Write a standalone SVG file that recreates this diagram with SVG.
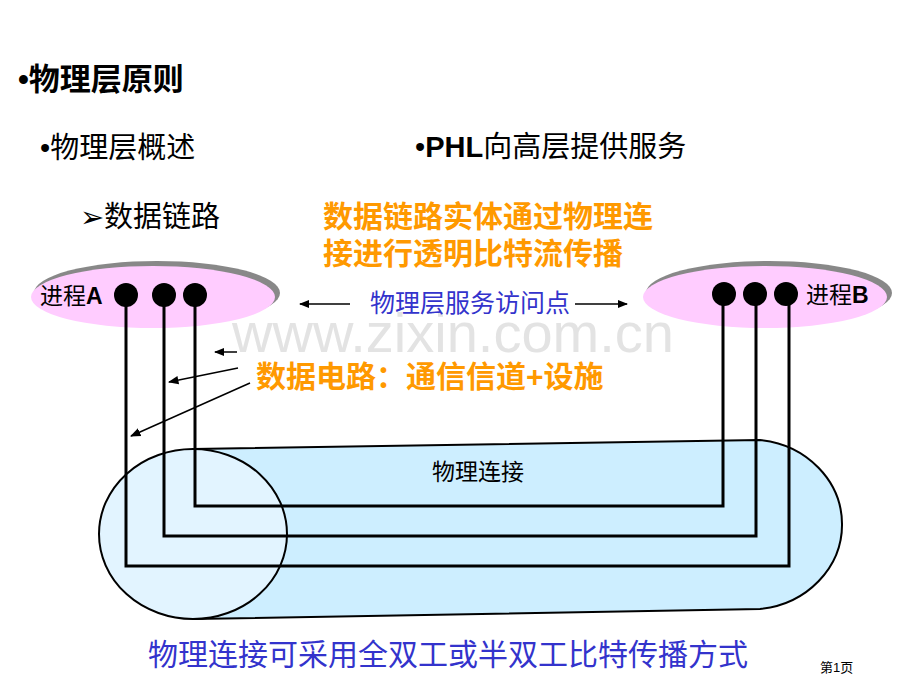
<svg xmlns="http://www.w3.org/2000/svg" width="920" height="690" viewBox="0 0 920 690">
<defs>
<style>
text{font-family:"Liberation Sans","Noto Sans CJK SC",sans-serif}
.t{font-size:29px;fill:#000}
.o{font-size:30px;fill:#f90;font-weight:bold}
.l{stroke:#000;stroke-width:3;fill:none}
.a{stroke:#000;stroke-width:1.5;fill:none;marker-end:url(#ar)}
</style>
<marker id="ar" viewBox="0 0 10 10" refX="9" refY="5" markerWidth="7" markerHeight="7" orient="auto"><path d="M0,1 L10,5 L0,9 z" fill="#000"/></marker>
</defs>
<rect width="920" height="690" fill="#fff"/>
<text x="18" y="90" font-size="31" font-weight="bold">•物理层原则</text>
<text x="40" y="158" class="t">•物理层概述</text>
<text x="415" y="157" class="t">•<tspan font-weight="bold">PHL</tspan>向高层提供服务</text>
<text x="80" y="227" class="t">➢数据链路</text>
<text x="323" y="227" class="o">数据链路实体通过物理连</text>
<text x="323" y="264" class="o">接进行透明比特流传播</text>
<text x="232" y="352" font-size="56" fill="#ddd" opacity="0.8">www.zixin.com.cn</text>
<g id="procA">
<ellipse cx="157" cy="293" rx="123" ry="32" fill="#888"/>
<ellipse cx="153" cy="297" rx="122" ry="31" fill="#fcf"/>
<text x="40" y="304" font-size="23">进程<tspan font-weight="bold">A</tspan></text>
<circle cx="126" cy="295" r="12"/><circle cx="164" cy="295" r="12"/><circle cx="195" cy="295" r="12"/>
</g>
<g id="procB">
<ellipse cx="769" cy="293" rx="123" ry="32" fill="#888"/>
<ellipse cx="765" cy="297" rx="122" ry="31" fill="#fcf"/>
<text x="806" y="303" font-size="23">进程<tspan font-weight="bold">B</tspan></text>
<circle cx="724" cy="294" r="12"/><circle cx="755" cy="294" r="12"/><circle cx="786" cy="294" r="12"/>
</g>
<g id="pipe">
<path d="M193,449 L760,440 A92,85 0 0 1 760,609 L193,619 Z" fill="#cdeeff" stroke="#000" stroke-width="2"/>
<ellipse cx="193" cy="534" rx="94" ry="85" fill="#e2f4ff" stroke="#000" stroke-width="2"/>
<text x="432" y="480" font-size="23">物理连接</text>
</g>
<g id="connectors">
<path class="l" d="M195,295 V506 H723 V294"/>
<path class="l" d="M164,295 V536 H756 V294"/>
<path class="l" d="M126,295 V566 H789 V294"/>
<line class="a" x1="350" y1="304" x2="300" y2="304"/>
<line class="a" x1="575" y1="304" x2="627" y2="304"/>
<line class="a" x1="237" y1="352" x2="215" y2="352"/>
<line class="a" x1="238" y1="368" x2="169" y2="382"/>
<line class="a" x1="250" y1="383" x2="131" y2="436"/>
</g>
<text x="370" y="312" font-size="25" fill="#33c">物理层服务访问点</text>
<text x="256" y="387" class="o">数据电路：通信信道<tspan font-weight="bold">+</tspan>设施</text>
<text x="148" y="665" font-size="30" fill="#33c">物理连接可采用全双工或半双工比特传播方式</text>
<text x="820" y="672" font-size="13">第1页</text>
</svg>
